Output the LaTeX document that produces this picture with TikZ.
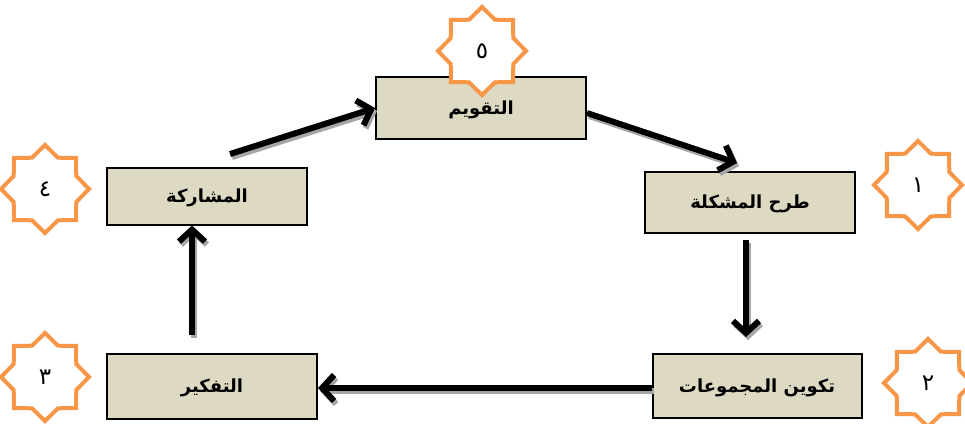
\documentclass[tikz,border=0pt]{standalone}
\usepackage{fontspec}
\newfontfamily\arabicfont[Script=Arabic]{DejaVu Sans}
\TeXXeTstate=1
\usetikzlibrary{shapes.geometric,arrows.meta}
\definecolor{boxfill}{HTML}{DDD9C3}
\definecolor{starorange}{HTML}{F79646}
\begin{document}
\begin{tikzpicture}[x=1pt,y=-1pt,
  stagebox/.style={draw=black, line width=2pt, fill=boxfill, inner sep=0pt,
    text height=14pt, text depth=2pt,
    minimum width=#1, minimum height=62pt, font=\arabicfont\bfseries\fontsize{18}{20}\selectfont},
  numstar/.style={star, star points=8, star point ratio=1.3, draw=starorange,
    line width=4pt, line join=miter, fill=white, minimum size=88pt, inner sep=0pt,
    font=\arabicfont\fontsize{23}{25}\selectfont},
  flowarrow/.style={line width=6pt, black, -{Straight Barb[length=12pt,width=26pt]},
    preaction={draw=black!35, line width=6pt, -{Straight Barb[length=12pt,width=26pt]},
      transform canvas={shift={(2pt,-3pt)}}}}
]
\useasboundingbox (0,0) rectangle (965,423);

% stage boxes
\node[stagebox=210pt] (tq) at (481,108) {\beginR التقويم\endR};
\node[stagebox=210pt, minimum height=61pt] (tm) at (750,202) {\beginR طرح المشكلة\endR};
\node[stagebox=209pt, minimum height=64pt] (tk) at (757,386) {\beginR تكوين المجموعات\endR};
\node[stagebox=210pt, minimum height=65pt] (tf) at (212,386) {\beginR التفكير\endR};
\node[stagebox=200pt, minimum height=57pt] (mu) at (207,196) {\beginR المشاركة\endR};

% numbered stars
\node[numstar] (s5) at (482,51) {\beginR ٥\endR};
\node[numstar] (s1) at (918,185) {\beginR ١\endR};
\node[numstar] (s2) at (928,383) {\beginR ٢\endR};
\node[numstar] (s3) at (45,377) {\beginR ٣\endR};
\node[numstar] (s4) at (45,189) {\beginR ٤\endR};

% free arrow ends
\coordinate (a1s) at (230,154);
\coordinate (a2e) at (737,163);
\coordinate (a3s) at (746,240);
\coordinate (a3e) at (746,337);
\coordinate (a5s) at (192,335);

\draw[flowarrow] (a1s) -- (tq.west);
\draw[flowarrow] ([yshift=-5pt]tq.east) -- (a2e);
\draw[flowarrow] (a3s) -- (a3e);
\draw[flowarrow] ([yshift=-2pt]tk.west) -- ([yshift=-2pt]tf.east);
\draw[flowarrow] (a5s) -- ([xshift=-15pt]mu.south);
\end{tikzpicture}
\end{document}
